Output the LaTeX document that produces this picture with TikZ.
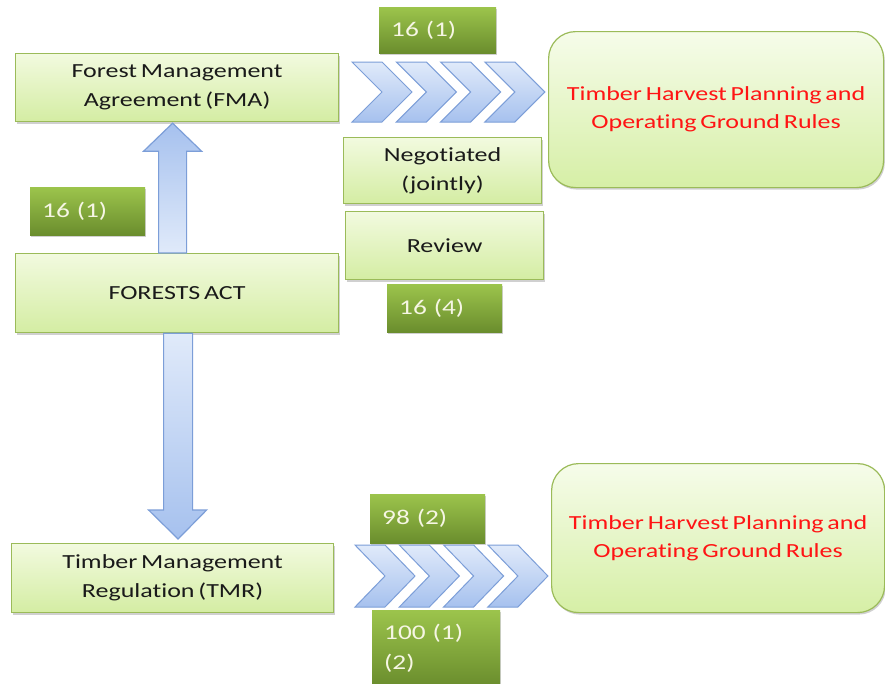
\documentclass[tikz,border=0pt]{standalone}
\usepackage{fontspec}
\setmainfont{Carlito}[FakeStretch=1.3,Ligatures=NoCommon,WordSpace=0.65]
\usetikzlibrary{calc,shadows}
\definecolor{lgtop}{HTML}{F2FADF}
\definecolor{lgbot}{HTML}{D4EDA3}
\definecolor{lgdraw}{HTML}{9BBB59}
\definecolor{rtop}{HTML}{F6FCEA}
\definecolor{rbot}{HTML}{D6EFA6}
\definecolor{gtop}{HTML}{9CC44C}
\definecolor{gbot}{HTML}{6A8D2D}
\definecolor{gtxt}{HTML}{F6F6E4}
\definecolor{blight}{HTML}{E0EAFA}
\definecolor{bdark}{HTML}{A6C1EE}
\definecolor{bdraw}{HTML}{7C9ED8}
\definecolor{txt}{HTML}{1A1A1A}
\definecolor{redtxt}{HTML}{FF1414}
\begin{document}
\begin{tikzpicture}[x=1pt,y=-1pt,
  shadowed/.style={drop shadow={shadow xshift=1.2pt,shadow yshift=-2pt,opacity=0.3,fill=black!60}},
  lbox/.style={shadowed,draw=lgdraw,line width=1.2pt,top color=lgtop,bottom color=lgbot,
    anchor=north west,inner sep=0pt,align=center,text=txt,font=\fontsize{20}{29}\selectfont},
  rbox/.style={shadowed,draw=lgdraw,line width=1.2pt,top color=rtop,bottom color=rbot,
    rounded corners=27pt,anchor=north west,inner sep=0pt,align=center,text=redtxt,
    font=\fontsize{20}{28}\selectfont},
  gbox/.style={shadowed,top color=gtop,bottom color=gbot,anchor=north west,inner xsep=12pt,
    inner ysep=0pt,align=left,text=gtxt,font=\fontsize{21}{30}\selectfont},
  chev/.style={draw=bdraw,line width=1pt,top color=blight,bottom color=bdark,line join=miter},
  barrow/.style={draw=bdraw,line width=1.2pt,line join=miter}]
\useasboundingbox[fill=white] (0,0) rectangle (885,683);

% light green boxes
\node[lbox,minimum width=323pt,minimum height=68pt] (fma) at (15,53) {Forest Management\\Agreement (FMA)};
\node[lbox,minimum width=323pt,minimum height=79pt] (fa) at (15,253) {FORESTS ACT};
\node[lbox,minimum width=322pt,minimum height=69pt] (tmr) at (11,543) {Timber Management\\Regulation (TMR)};
\node[lbox,minimum width=198pt,minimum height=66pt] (neg) at (343,137) {Negotiated\\(jointly)};
\node[lbox,minimum width=198pt,minimum height=68pt] (rev) at (345,211) {Review};

% rounded target boxes
\node[rbox,minimum width=335pt,minimum height=156pt] (thp1) at (548,31) {Timber Harvest Planning and\\Operating Ground Rules};
\node[rbox,minimum width=333pt,minimum height=149pt] (thp2) at (551,463) {Timber Harvest Planning and\\Operating Ground Rules};

% dark green labels
\node[gbox,text width=93pt,minimum height=46pt] (g1) at (379,7) {16 (1)};
\node[gbox,text width=91pt,minimum height=48pt] (g2) at (30,187) {16 (1)};
\node[gbox,text width=91pt,minimum height=48pt] (g3) at (387,284) {16 (4)};
\node[gbox,text width=91pt,minimum height=49pt] (g4) at (370,494) {98 (2)};
\node[gbox,text width=104pt,minimum height=76pt] (g5) at (372,610) {100 (1)\\(2)};

% big arrows
\path[barrow,top color=bdark,bottom color=blight]
  ($(fa.north)+(-18.5,0)$) -- ($(fma.south)+(-18.5,29)$) -- ($(fma.south)+(-33.5,29)$)
  -- ($(fma.south)+(-4.5,1)$) -- ($(fma.south)+(24.5,29)$) -- ($(fma.south)+(9.5,29)$)
  -- ($(fa.north)+(9.5,0)$) -- cycle;
\path[barrow,top color=blight,bottom color=bdark]
  ($(fa.south)+(-13.5,0)$) -- ($(tmr.north)+(-9,-33)$) -- ($(tmr.north)+(-24,-33)$)
  -- ($(tmr.north)+(5.5,-4)$) -- ($(tmr.north)+(34,-33)$) -- ($(tmr.north)+(20,-33)$)
  -- ($(fa.south)+(15.5,0)$) -- cycle;

% chevron chains
\coordinate (ct) at (352,62);
\coordinate (cb) at (355,545);
\foreach \i in {0,...,3}{
  \path[chev] ($(ct)+(\i*44.3,0)$) -- ++(30,0) -- ++(30,30) -- ++(-30,30) -- ++(-30,0) -- ++(30,-30) -- cycle;
  \path[chev] ($(cb)+(\i*44.3,0)$) -- ++(30,0) -- ++(30,31) -- ++(-30,31) -- ++(-30,0) -- ++(30,-31) -- cycle;
}
\end{tikzpicture}
\end{document}
